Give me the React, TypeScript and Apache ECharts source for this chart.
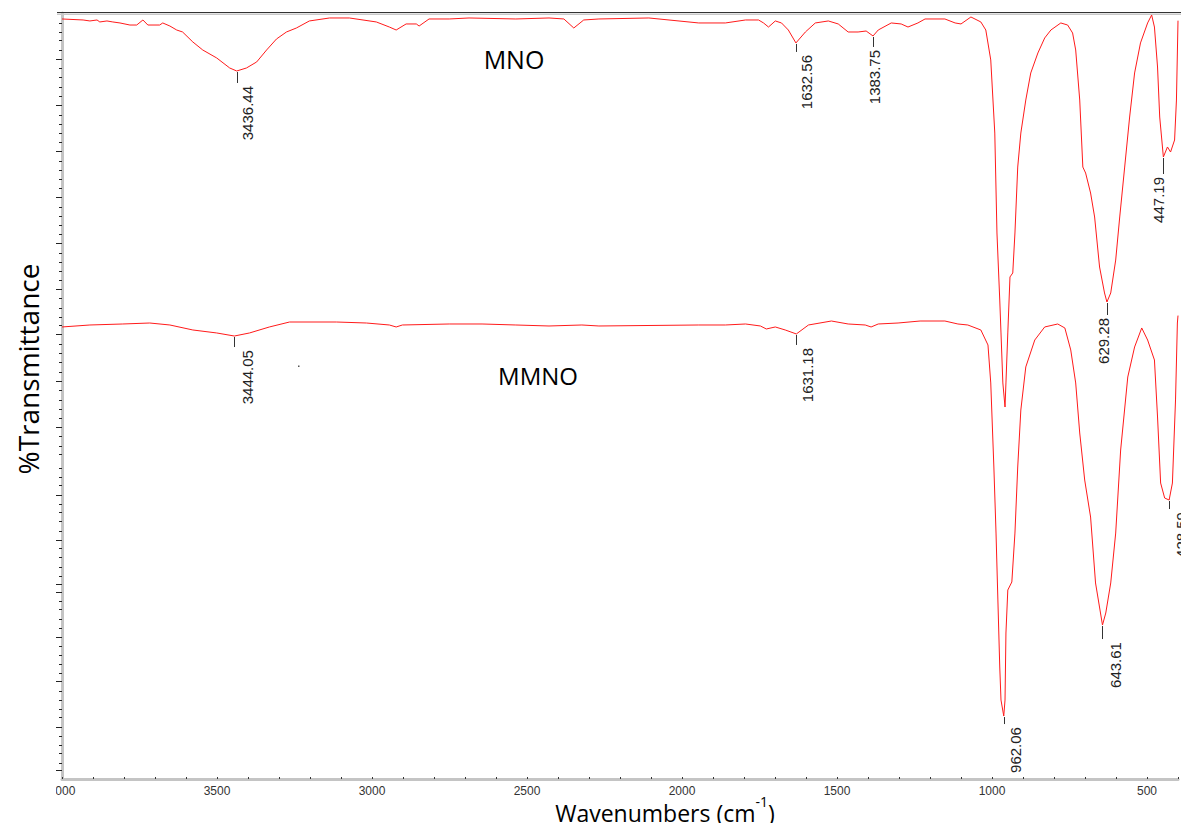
import React, { useEffect, useRef } from "react";
import * as echarts from "echarts";

// FTIR spectra: [wavenumber (cm-1), transmittance (offset, a.u.)]
const mnoSpectrum: [number, number][] = [
  [4000, 99.22], [3932, 99.09], [3910, 98.96], [3887, 99.09], [3878, 98.83], [3855, 98.96],
  [3836, 98.83], [3813, 98.7], [3781, 98.43], [3759, 98.43], [3739, 99.09], [3723, 98.43],
  [3685, 98.43], [3675, 98.7], [3652, 98.3], [3630, 97.78], [3611, 97.52], [3578, 96.22],
  [3546, 95.17], [3501, 94.13], [3459, 92.82], [3436.44, 92.43], [3405, 92.82], [3372, 93.61],
  [3340, 95.17], [3308, 96.61], [3276, 97.52], [3244, 98.04], [3202, 98.96], [3137, 99.35],
  [3073, 99.35], [2986, 98.83], [2944, 98.17], [2922, 97.78], [2890, 98.57], [2857, 98.57],
  [2848, 98.3], [2816, 99.22], [2751, 99.22], [2687, 99.35], [2536, 99.22], [2429, 99.35],
  [2381, 99.22], [2349, 98.04], [2317, 99.09], [2268, 99.22], [2107, 99.35], [1946, 98.7],
  [1860, 98.7], [1795, 99.09], [1753, 99.09], [1737, 98.7], [1721, 98.17], [1699, 98.96],
  [1679, 98.7], [1657, 97.78], [1632.56, 96.09], [1602, 97.52], [1570, 98.7], [1528, 98.96],
  [1496, 98.57], [1464, 97.52], [1432, 97.52], [1406, 97.65], [1383.75, 97.0], [1367, 97.78],
  [1325, 98.7], [1293, 98.57], [1271, 98.17], [1239, 98.7], [1216, 99.22], [1152, 99.22],
  [1119, 98.7], [1100, 98.57], [1068, 99.48], [1036, 98.83], [1020, 97.78], [1004, 93.87],
  [991, 84.33], [984, 71.28], [975, 62.53], [971, 58.23], [965, 51.7], [958, 48.56],
  [955, 51.7], [949, 58.23], [942, 65.54], [933, 66.06], [926, 71.28], [917, 79.89],
  [907, 84.33], [891, 88.64], [875, 92.17], [852, 94.78], [830, 96.74], [810, 97.78],
  [778, 98.7], [756, 98.43], [740, 97.39], [730, 95.17], [717, 88.64], [707, 79.89],
  [698, 79.11], [682, 76.5], [669, 73.37], [653, 66.84], [637, 63.45], [629.28, 62.27],
  [617, 63.45], [601, 67.75], [588, 73.37], [572, 79.89], [556, 86.42], [540, 92.17],
  [521, 96.09], [498, 98.7], [485, 99.74], [476, 98.17], [466, 92.95], [459, 86.42],
  [447.19, 81.2], [434, 82.51], [424, 81.85], [411, 83.42], [405, 88.64], [400, 99.0],
];

const mmnoSpectrum: [number, number][] = [
  [4000, 59.01], [3910, 59.27], [3804, 59.4], [3717, 59.53], [3652, 59.27], [3578, 58.62],
  [3501, 58.23], [3444.05, 57.83], [3395, 58.23], [3331, 59.01], [3266, 59.66], [3115, 59.66],
  [3018, 59.53], [2944, 59.27], [2922, 59.01], [2902, 59.27], [2751, 59.4], [2645, 59.4],
  [2536, 59.27], [2429, 59.14], [2323, 59.27], [2268, 59.14], [1946, 59.27], [1860, 59.27],
  [1795, 59.4], [1747, 59.14], [1728, 58.75], [1699, 59.01], [1667, 58.62], [1631.18, 58.1],
  [1592, 59.27], [1518, 59.79], [1464, 59.4], [1409, 59.27], [1390, 59.01], [1367, 59.4],
  [1303, 59.53], [1232, 59.79], [1152, 59.79], [1110, 59.4], [1078, 59.27], [1036, 58.62],
  [1013, 56.66], [1004, 51.7], [994, 40.73], [987, 32.11], [981, 23.37], [975, 14.62],
  [971, 10.31], [962.06, 8.22], [958, 10.31], [955, 19.06], [949, 24.67], [936, 25.72],
  [926, 32.11], [917, 40.73], [907, 48.17], [891, 53.79], [862, 57.31], [830, 59.01],
  [788, 59.4], [765, 58.88], [746, 56.01], [730, 51.7], [717, 45.17], [701, 39.03],
  [682, 34.2], [666, 25.59], [643.61, 20.1], [633, 21.67], [617, 25.59], [601, 32.11],
  [585, 42.95], [562, 52.48], [540, 56.4], [517, 58.88], [498, 57.31], [476, 54.7],
  [466, 47.26], [456, 38.64], [443, 36.68], [428.59, 36.42], [418, 38.64], [408, 49.48],
  [402, 59.53], [400, 60.5],
];

// Labelled band positions (cm-1)
const mnoPeaks = [3436.44, 1632.56, 1383.75, 629.28, 447.19];
const mmnoPeaks = [3444.05, 1631.18, 962.06, 643.61, 428.59];

// Axis ticks
const wavenumberLabels = [4000, 3500, 3000, 2500, 2000, 1500, 1000, 500];
const majorYTicks = [94.0, 87.9, 81.9, 75.9, 69.9, 63.9, 58.0, 51.9, 45.9, 37.1, 31.2, 25.4, 24.4, 18.5, 12.7, 6.8, 1.2];
const minorYTicks = [
  98.7, 97.5, 96.4, 95.2, 92.8, 91.6, 90.3, 89.1, 86.7, 85.5, 84.3, 83.1, 80.7, 79.5, 78.3, 77.1,
  74.7, 73.5, 72.3, 71.1, 68.7, 67.5, 66.3, 65.1, 62.7, 61.5, 60.3, 59.2, 56.8, 55.6, 54.4, 53.1,
  50.7, 49.5, 48.3, 47.1, 44.7, 43.5, 42.4, 40.6, 39.4, 38.3, 35.9, 34.8, 33.6, 32.4, 30.1, 28.9,
  27.7, 26.5, 23.2, 22.1, 20.9, 19.7, 17.3, 16.2, 15.0, 13.8, 11.5, 10.3, 9.1, 8.0, 5.6, 4.4, 3.3, 2.1,
];

// Label placement: [horizontal shift of text centre, gap from band minimum to text top] in px
const peakLabelLayout: Record<string, [number, number]> = {
  "3436.44": [11, 15], "1632.56": [11, 12], "1383.75": [1, 14], "629.28": [-3, 16], "447.19": [-5, 20],
  "3444.05": [13, 14], "1631.18": [11, 14], "962.06": [12, 11], "643.61": [13, 17], "428.59": [12, 12],
};

const LABEL_FONT = '"Liberation Sans", Arial, sans-serif';
const TITLE_FONT = '"Open Sans", "Noto Sans", sans-serif';
const RED = "#ff1a1a";

export default function App() {
  const ref = useRef<HTMLDivElement>(null);

  useEffect(() => {
    const chart = echarts.init(ref.current!, null, { renderer: "svg" });

    const lineSeries = (name: string, data: [number, number][]) => ({
      name,
      type: "line",
      data,
      showSymbol: false,
      symbol: "none",
      silent: true,
      clip: true,
      lineStyle: { color: RED, width: 1 },
      z: 5,
    });

    chart.setOption({
      animation: false,
      backgroundColor: "#ffffff",
      grid: { left: 62, top: 13, width: 1118.5, height: 766 },
      xAxis: {
        type: "value",
        min: 400,
        max: 4000,
        interval: 100,
        inverse: true,
        axisLine: { lineStyle: { color: "#c4c4c4", width: 3 } },
        axisTick: { inside: true, length: 2, lineStyle: { color: "#333", width: 1 } },
        axisLabel: {
          margin: 6,
          color: "#333",
          fontSize: 12,
          fontFamily: LABEL_FONT,
          formatter: (v: number) => (wavenumberLabels.includes(v) ? String(v) : ""),
        },
        splitLine: { show: false },
      },
      yAxis: [
        {
          type: "value",
          min: 0,
          max: 100,
          position: "left",
          axisLine: { show: true, lineStyle: { color: "#c4c4c4", width: 3 } },
          axisTick: { show: true, length: 6, customValues: majorYTicks, lineStyle: { color: "#222", width: 1 } },
          axisLabel: { show: false },
          splitLine: { show: false },
        },
        {
          type: "value",
          min: 0,
          max: 100,
          position: "left",
          axisLine: { show: false },
          axisTick: { show: true, length: 3, customValues: minorYTicks, lineStyle: { color: "#222", width: 1 } },
          axisLabel: { show: false },
          splitLine: { show: false },
        },
      ],
      series: [lineSeries("MNO", mnoSpectrum), lineSeries("MMNO", mmnoSpectrum)],
    });

    const graphics: any[] = [
      // frame top edge
      { type: "line", z: 20, shape: { x1: 57, y1: 12.5, x2: 1181, y2: 12.5 }, style: { stroke: "#333", lineWidth: 1 } },
      { type: "line", z: 20, shape: { x1: 57, y1: 14.2, x2: 1181, y2: 14.2 }, style: { stroke: "#c8c8c8", lineWidth: 1.5 } },
      // left end of the wavenumber scale is cut off
      { type: "rect", z: 50, shape: { x: 0, y: 781, width: 56, height: 20 }, style: { fill: "#ffffff" } },
      // stray mark
      { type: "rect", z: 20, shape: { x: 298, y: 365.5, width: 1.5, height: 1.5 }, style: { fill: "#555" } },
      {
        type: "text",
        z: 30,
        x: 28,
        y: 369,
        rotation: Math.PI / 2,
        style: {
          text: "%Transmittance",
          fill: "#000",
          fontSize: 28,
          fontFamily: TITLE_FONT,
          align: "center",
          textAlign: "center",
          verticalAlign: "middle",
          textVerticalAlign: "middle",
        },
      },
      {
        type: "text",
        z: 30,
        x: 665,
        y: 809,
        style: {
          text: "{a|Wavenumbers (cm}{b|-1}{a|)}",
          fill: "#000",
          align: "center",
          textAlign: "center",
          verticalAlign: "middle",
          textVerticalAlign: "middle",
          rich: {
            a: { fontSize: 23, fontFamily: TITLE_FONT, lineHeight: 30, verticalAlign: "bottom", fill: "#000" },
            b: { fontSize: 14, fontFamily: TITLE_FONT, lineHeight: 17, verticalAlign: "top", fill: "#000" },
          },
        },
      },
      {
        type: "text",
        z: 30,
        x: 514,
        y: 59,
        style: {
          text: "MNO", fill: "#000", fontSize: 25, fontFamily: TITLE_FONT,
          align: "center", textAlign: "center", verticalAlign: "middle", textVerticalAlign: "middle",
        },
      },
      {
        type: "text",
        z: 30,
        x: 538,
        y: 375,
        style: {
          text: "MMNO", fill: "#000", fontSize: 24, fontFamily: TITLE_FONT,
          align: "center", textAlign: "center", verticalAlign: "middle", textVerticalAlign: "middle",
        },
      },
    ];

    const addPeakLabels = (data: [number, number][], peaks: number[]) => {
      peaks.forEach((wn) => {
        const point = data.find((d) => d[0] === wn);
        if (!point) return;
        const [px, py] = chart.convertToPixel({ gridIndex: 0 }, point) as number[];
        const text = wn.toFixed(2);
        const [dx, dy] = peakLabelLayout[text] || [10, 14];
        graphics.push({
          type: "line",
          z: 25,
          shape: { x1: Math.round(px) + 0.5, y1: py + 1, x2: Math.round(px) + 0.5, y2: py + dy - 3 },
          style: { stroke: "#333", lineWidth: 1 },
        });
        graphics.push({
          type: "text",
          z: 25,
          x: px + dx,
          y: py + dy,
          rotation: Math.PI / 2,
          style: {
            text,
            fill: "#222",
            fontSize: 15,
            fontFamily: LABEL_FONT,
            align: "right",
            textAlign: "right",
            verticalAlign: "middle",
            textVerticalAlign: "middle",
          },
        });
      });
    };
    addPeakLabels(mnoSpectrum, mnoPeaks);
    addPeakLabels(mmnoSpectrum, mmnoPeaks);

    chart.setOption({ graphic: graphics });

    return () => chart.dispose();
  }, []);

  return (
    <div
      ref={ref}
      style={{ position: "absolute", left: 0, top: 0, width: 1181, height: 823, background: "#fff" }}
    />
  );
}
